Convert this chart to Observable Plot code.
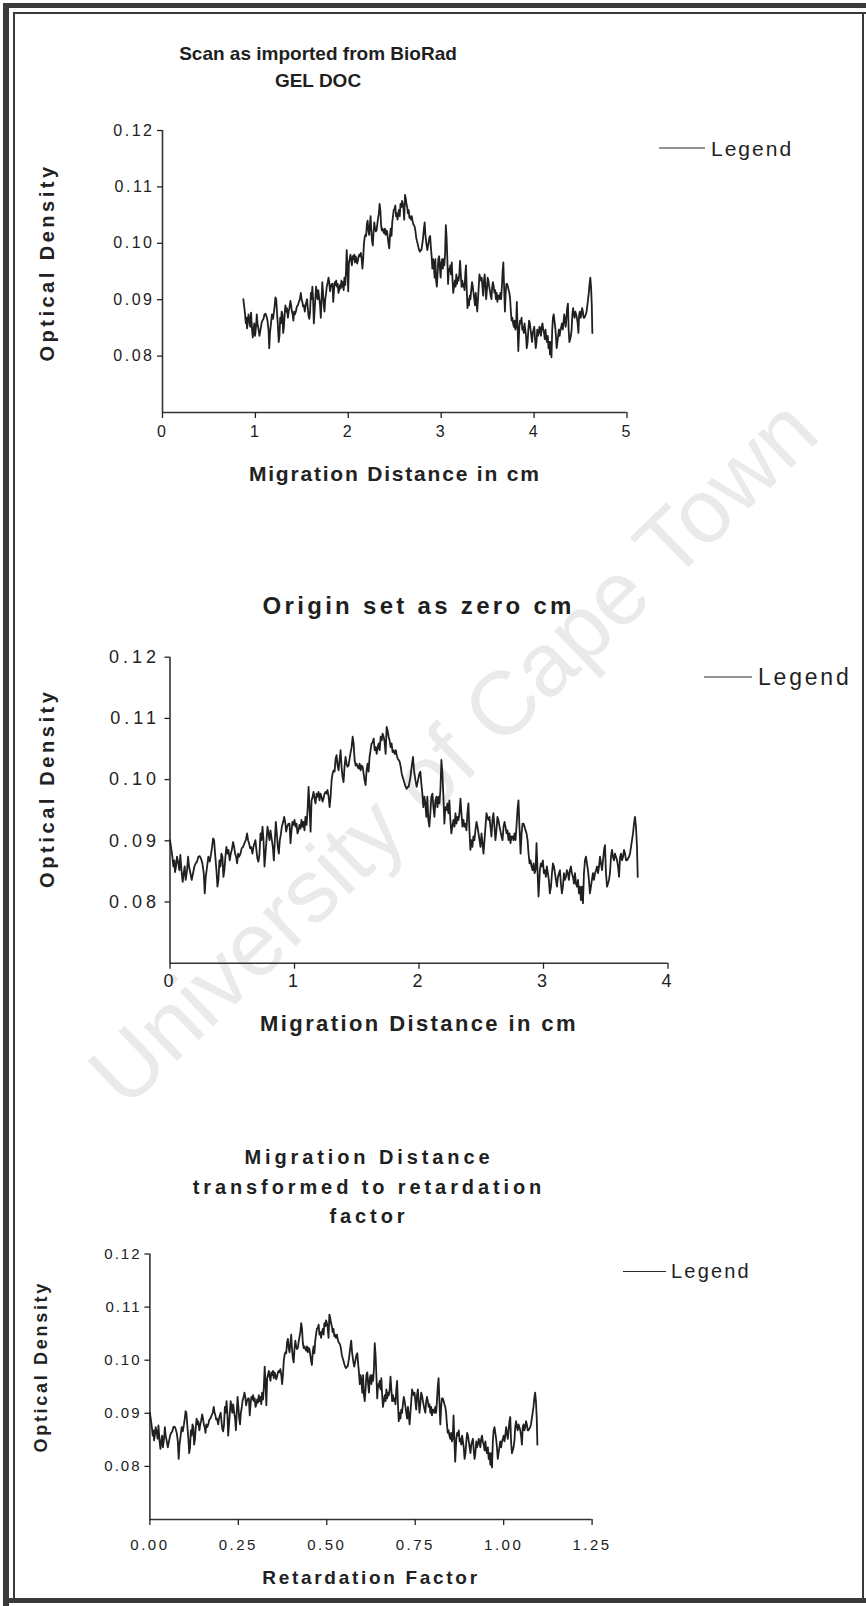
<!DOCTYPE html>
<html>
<head>
<meta charset="utf-8">
<script src="https://cdn.jsdelivr.net/npm/d3@7"></script>
<script src="https://cdn.jsdelivr.net/npm/@observablehq/plot@0.6"></script>
<style>
html, body { margin:0; padding:0; background:#fff; }
#page { position:relative; width:866px; height:1606px; overflow:hidden; background:#fff;
  font-family:"Liberation Sans", Arial, sans-serif; color:#1f1f1f; }
.frame { position:absolute; background:#3a3a3a; }
.watermark { position:absolute; left:453px; top:752px; transform:translate(-50%,-50%) rotate(-44deg);
  font-size:90px; color:#eaeaea; white-space:nowrap; font-family:"Liberation Sans", Arial, sans-serif; }
.title { position:absolute; transform:translate(-50%,-50%); font-weight:bold; white-space:nowrap; line-height:1; }
.legend { position:absolute; white-space:nowrap; line-height:1; transform:translateY(-50%); display:flex; align-items:center; }
.legend .swatch { display:inline-block; height:0; border-top:1.6px solid #2a2a2a; }
.plot { position:absolute; left:0; }
.plot svg { overflow:visible; }
.p1 g[aria-label="y-axis tick label"] { font-size:16px; letter-spacing:2.5px; }
.p1 g[aria-label="x-axis tick label"] { font-size:16px; letter-spacing:2px; }
.p1 g[aria-label="x-axis label"] { font-size:21px; font-weight:bold; letter-spacing:1.8px; }
.p1 .ylab text { letter-spacing:3.5px; }
.p2 g[aria-label="y-axis tick label"] { font-size:18px; letter-spacing:4px; }
.p2 g[aria-label="x-axis tick label"] { font-size:18px; letter-spacing:3px; }
.p2 g[aria-label="x-axis label"] { font-size:22px; font-weight:bold; letter-spacing:2.4px; }
.p2 .ylab text { letter-spacing:3.6px; }
.p3 g[aria-label="y-axis tick label"] { font-size:15px; letter-spacing:2px; }
.p3 g[aria-label="x-axis tick label"] { font-size:15px; letter-spacing:2.5px; }
.p3 g[aria-label="x-axis label"] { font-size:19px; font-weight:bold; letter-spacing:2.7px; }
.p3 .ylab text { letter-spacing:2.7px; }
</style>
</head>
<body>
<div id="page">
  <div class="watermark">University of Cape Town</div>
  <div class="frame" style="left:3px;top:3px;width:6px;height:1603px"></div>
  <div class="frame" style="left:3px;top:3px;width:863px;height:5px"></div>
  <div class="frame" style="left:13px;top:12px;width:2px;height:1589px"></div>
  <div class="frame" style="left:13px;top:12px;width:853px;height:2px"></div>
  <div class="frame" style="left:862px;top:12px;width:2px;height:1589px"></div>
  <div class="frame" style="left:3px;top:1598px;width:863px;height:5px"></div>
</div>
<script>
// ---- data ----
const originOffsetCm = 0.87;   // origin position in the imported scan (cm)
const solventFrontCm = 3.43;   // solvent front distance from origin (cm)
const yTicks = [0.08, 0.09, 0.10, 0.11, 0.12];
const scanTicks = [0, 1, 2, 3, 4, 5];
const originTicks = [0, 1, 2, 3, 4];
const rfTicks = [0, 0.25, 0.5, 0.75, 1.0, 1.25];
const panelTitles = [
  ["Scan as imported from BioRad", "GEL DOC"],
  ["Origin set as zero cm"],
  ["Migration Distance", "transformed to retardation", "factor"]
];
const xLabels = ["Migration Distance in cm", "Migration Distance in cm", "Retardation Factor"];
const yLabel = "Optical Density";
const legendText = "Legend";

// [distance from origin (cm), optical density]
const densityProfile = [
[0.000,0.0901],[0.008,0.0890],[0.019,0.0874],[0.027,0.0858],[0.035,0.0868],[0.040,0.0849],[0.048,0.0858],[0.056,0.0874],
[0.067,0.0863],[0.075,0.0852],[0.083,0.0877],[0.094,0.0847],[0.102,0.0833],[0.110,0.0847],[0.118,0.0858],[0.126,0.0836],
[0.137,0.0852],[0.145,0.0874],[0.153,0.0858],[0.164,0.0847],[0.174,0.0836],[0.185,0.0847],[0.196,0.0858],[0.206,0.0863],
[0.217,0.0866],[0.228,0.0874],[0.239,0.0875],[0.249,0.0871],[0.260,0.0863],[0.271,0.0847],[0.279,0.0814],[0.287,0.0841],
[0.298,0.0858],[0.308,0.0874],[0.319,0.0866],[0.330,0.0879],[0.338,0.0890],[0.346,0.0904],[0.354,0.0901],[0.362,0.0879],
[0.373,0.0852],[0.381,0.0825],[0.389,0.0836],[0.397,0.0868],[0.405,0.0858],[0.413,0.0879],[0.421,0.0874],[0.429,0.0841],
[0.437,0.0852],[0.445,0.0874],[0.453,0.0890],[0.461,0.0879],[0.469,0.0885],[0.480,0.0868],[0.488,0.0879],[0.496,0.0885],
[0.507,0.0898],[0.515,0.0890],[0.523,0.0879],[0.531,0.0874],[0.539,0.0863],[0.547,0.0879],[0.555,0.0874],[0.566,0.0879],
[0.576,0.0888],[0.587,0.0890],[0.598,0.0896],[0.609,0.0901],[0.619,0.0912],[0.627,0.0901],[0.635,0.0896],[0.643,0.0888],
[0.651,0.0890],[0.662,0.0879],[0.670,0.0890],[0.678,0.0896],[0.686,0.0901],[0.694,0.0885],[0.702,0.0871],[0.710,0.0866],
[0.718,0.0877],[0.727,0.0912],[0.735,0.0901],[0.743,0.0923],[0.751,0.0901],[0.759,0.0858],[0.767,0.0879],[0.775,0.0901],
[0.783,0.0923],[0.791,0.0912],[0.799,0.0901],[0.807,0.0917],[0.818,0.0901],[0.826,0.0890],[0.834,0.0868],[0.842,0.0901],
[0.850,0.0931],[0.858,0.0912],[0.866,0.0890],[0.874,0.0879],[0.882,0.0901],[0.890,0.0910],[0.898,0.0923],[0.909,0.0931],
[0.917,0.0939],[0.925,0.0931],[0.933,0.0915],[0.941,0.0923],[0.952,0.0928],
[0.960,0.0928],[0.968,0.0896],[0.976,0.0917],[0.984,0.0931],[0.992,0.0926],[1.000,0.0934],[1.008,0.0923],[1.016,0.0928],
[1.024,0.0912],[1.032,0.0917],[1.040,0.0926],[1.048,0.0920],[1.056,0.0934],[1.064,0.0923],[1.072,0.0931],[1.080,0.0917],
[1.088,0.0939],[1.097,0.0926],[1.105,0.0950],[1.113,0.0988],[1.121,0.0955],[1.129,0.0915],[1.137,0.0966],[1.145,0.0972],
[1.153,0.0980],[1.161,0.0969],[1.169,0.0961],[1.177,0.0977],[1.185,0.0972],[1.193,0.0980],[1.201,0.0966],[1.209,0.0977],
[1.217,0.0972],[1.225,0.0964],[1.233,0.0969],[1.241,0.0977],[1.249,0.0980],[1.257,0.0977],[1.265,0.0983],[1.274,0.0972],
[1.282,0.0955],[1.290,0.0972],[1.298,0.0999],[1.306,0.1010],[1.314,0.1015],[1.322,0.1013],[1.330,0.1034],[1.338,0.1040],
[1.346,0.1023],[1.354,0.1015],[1.362,0.1032],[1.370,0.1048],[1.378,0.1021],[1.386,0.1004],[1.394,0.0996],[1.402,0.1021],
[1.410,0.1037],[1.418,0.1026],[1.426,0.1021],[1.434,0.1023],[1.442,0.1034],[1.451,0.1045],[1.459,0.1053],[1.467,0.1070],
[1.475,0.1059],[1.483,0.1032],[1.491,0.1023],[1.499,0.1026],[1.507,0.1021],[1.515,0.1018],[1.523,0.1026],[1.531,0.1015],
[1.539,0.1023],[1.547,0.1021],[1.555,0.1010],[1.563,0.0999],[1.571,0.0991],[1.579,0.1015],[1.587,0.1026],[1.595,0.1013],
[1.603,0.1037],[1.611,0.1048],[1.619,0.1059],[1.628,0.1061],[1.636,0.1067],[1.644,0.1048],[1.652,0.1053],[1.660,0.1042],
[1.668,0.1053],[1.676,0.1059],[1.684,0.1048],[1.692,0.1070],[1.700,0.1064],[1.708,0.1075],[1.716,0.1070],[1.724,0.1061],
[1.732,0.1042],[1.740,0.1086],[1.748,0.1080],[1.756,0.1070],[1.764,0.1064],[1.772,0.1053],[1.780,0.1059],[1.788,0.1045],
[1.796,0.1048],[1.805,0.1042],[1.813,0.1048],[1.821,0.1040],[1.829,0.1034],[1.837,0.1032],[1.845,0.1029],[1.853,0.1021],
[1.861,0.1010],[1.869,0.1004],[1.877,0.0999],[1.885,0.0993],[1.893,0.0988],[1.901,0.0985],[1.909,0.0988],
[1.917,0.0988],[1.931,0.1004],[1.944,0.1026],[1.952,0.1037],[1.960,0.1015],[1.971,0.0999],[1.981,0.0988],[1.992,0.0999],
[2.003,0.1010],[2.011,0.1013],[2.019,0.0993],[2.027,0.0977],[2.035,0.0955],[2.043,0.0972],[2.051,0.0961],[2.059,0.0939],
[2.067,0.0972],[2.075,0.0934],[2.083,0.0923],[2.091,0.0945],[2.099,0.0972],[2.108,0.0977],[2.116,0.0955],[2.124,0.0939],
[2.132,0.0966],[2.140,0.0972],[2.148,0.0955],[2.156,0.0972],[2.164,0.0961],[2.172,0.0983],[2.180,0.1032],[2.188,0.1010],
[2.196,0.0972],[2.204,0.0928],[2.212,0.0955],[2.220,0.0950],[2.228,0.0961],[2.236,0.0945],[2.244,0.0966],[2.252,0.0934],
[2.260,0.0912],[2.268,0.0923],[2.277,0.0934],[2.285,0.0923],[2.293,0.0945],[2.301,0.0928],[2.309,0.0939],[2.317,0.0934],
[2.325,0.0945],[2.333,0.0969],[2.341,0.0945],[2.349,0.0923],[2.357,0.0934],[2.365,0.0923],[2.373,0.0928],[2.381,0.0917],
[2.389,0.0945],[2.397,0.0961],[2.405,0.0917],[2.413,0.0885],[2.421,0.0901],[2.429,0.0890],[2.437,0.0907],[2.445,0.0901],
[2.453,0.0917],[2.462,0.0931],[2.470,0.0923],[2.478,0.0912],[2.486,0.0901],[2.494,0.0890],[2.502,0.0912],[2.510,0.0896],
[2.518,0.0879],[2.526,0.0901],[2.534,0.0923],[2.542,0.0945],[2.550,0.0939],[2.558,0.0934],[2.566,0.0939],[2.574,0.0923],
[2.582,0.0907],[2.590,0.0934],[2.598,0.0945],[2.606,0.0923],[2.614,0.0901],[2.622,0.0917],[2.630,0.0939],[2.638,0.0934],
[2.647,0.0923],[2.655,0.0915],[2.663,0.0907],[2.671,0.0901],[2.679,0.0923],[2.687,0.0931],[2.695,0.0923],[2.703,0.0912],
[2.711,0.0917],[2.719,0.0901],[2.727,0.0912],[2.735,0.0896],[2.743,0.0907],[2.751,0.0907],[2.759,0.0901],[2.767,0.0912],
[2.775,0.0901],[2.783,0.0923],[2.791,0.0950],[2.799,0.0966],[2.807,0.0923],[2.816,0.0879],[2.824,0.0912],[2.832,0.0928],
[2.840,0.0928],[2.848,0.0923],[2.856,0.0917],[2.864,0.0912],[2.872,0.0901],[2.880,0.0879],[2.888,0.0863],[2.896,0.0868],
[2.904,0.0858],[2.912,0.0852],[2.920,0.0863],[2.928,0.0847],[2.936,0.0852],[2.944,0.0896],[2.952,0.0852],[2.960,0.0809],
[2.971,0.0852],[2.979,0.0863],[2.987,0.0858],[2.995,0.0868],[3.003,0.0847],[3.011,0.0852],[3.019,0.0841],[3.027,0.0858],
[3.035,0.0847],[3.043,0.0836],[3.051,0.0814],[3.060,0.0825],[3.068,0.0847],[3.076,0.0863],[3.084,0.0858],[3.092,0.0847],
[3.100,0.0836],[3.108,0.0825],[3.116,0.0841],[3.124,0.0847],[3.132,0.0852],[3.140,0.0830],[3.148,0.0814],[3.156,0.0825],
[3.164,0.0847],[3.172,0.0836],[3.180,0.0841],[3.188,0.0852],[3.196,0.0847],[3.204,0.0836],[3.212,0.0852],[3.220,0.0858],
[3.228,0.0847],[3.237,0.0841],[3.245,0.0830],[3.253,0.0847],[3.261,0.0830],[3.269,0.0825],[3.277,0.0836],[3.285,0.0814],
[3.293,0.0825],[3.301,0.0803],[3.309,0.0825],[3.317,0.0798],[3.325,0.0847],[3.333,0.0868],[3.341,0.0874],[3.349,0.0863],
[3.357,0.0852],[3.365,0.0836],[3.373,0.0814],[3.381,0.0825],[3.389,0.0836],[3.397,0.0847],[3.405,0.0836],[3.414,0.0847],
[3.422,0.0852],[3.430,0.0858],[3.438,0.0847],[3.446,0.0858],[3.454,0.0874],[3.462,0.0863],[3.470,0.0852],[3.478,0.0868],
[3.486,0.0885],[3.494,0.0893],[3.502,0.0847],[3.510,0.0825],[3.518,0.0830],[3.526,0.0836],[3.534,0.0847],[3.542,0.0874],
[3.550,0.0885],[3.558,0.0874],[3.566,0.0868],[3.574,0.0879],[3.582,0.0874],[3.591,0.0868],[3.599,0.0858],[3.607,0.0841],
[3.615,0.0874],[3.623,0.0879],[3.631,0.0868],[3.639,0.0874],[3.647,0.0885],[3.655,0.0879],[3.663,0.0868],[3.671,0.0868],
[3.679,0.0871],[3.687,0.0874],[3.695,0.0879],[3.703,0.0890],[3.711,0.0901],[3.719,0.0912],[3.727,0.0928],[3.735,0.0939],
[3.743,0.0923],[3.751,0.0890],[3.757,0.0841]
];

// ---- drawing ----
const rows = densityProfile.map(([d, od]) => ({d, od}));
const page = document.getElementById("page");
const ink = "#202020";

const panels = [
  { cls: "p1", top: 100, ml: 162, mr: 239.5, mt: 30, ph: 282, mb: 90,
    xDomain: [0, 5], xTicks: scanTicks, xFormat: d3.format("d"),
    xValue: r => r.d + originOffsetCm,
    ytp: 3, xtp: 7, ylo: 123, ylSize: 20, yShift: -9, xlo: 68,
    title: { lines: panelTitles[0], cx: 318, y0: 53, lh: 27, size: 19, ls: 0 },
    legend: { x: 659, y: 148, w: 46, gap: 6, size: 21, ls: 2 } },
  { cls: "p2", top: 620, ml: 169.5, mr: 198.5, mt: 36.7, ph: 306, mb: 85,
    xDomain: [0, 4], xTicks: originTicks, xFormat: d3.format("d"),
    xValue: r => r.d,
    ytp: 5, xtp: 5.5, ylo: 130.5, ylSize: 20, yShift: -22, xlo: 68,
    title: { lines: panelTitles[1], cx: 417, y0: 606, lh: 30, size: 24, ls: 3.3 },
    legend: { x: 704, y: 677, w: 48, gap: 6, size: 23, ls: 2.8 } },
  { cls: "p3", top: 1230, ml: 149.4, mr: 274.4, mt: 23.5, ph: 265.5, mb: 75,
    xDomain: [0, 1.25], xTicks: rfTicks, xFormat: d3.format(".2f"),
    xValue: r => r.d / solventFrontCm,
    ytp: 3.4, xtp: 14, ylo: 115.6, ylSize: 18, yShift: -20, xlo: 64,
    title: { lines: panelTitles[2], cx: 367, y0: 1157, lh: 29.7, size: 20, ls: 3.9 },
    legend: { x: 623, y: 1271, w: 43, gap: 5, size: 20, ls: 2.2 } }
];

panels.forEach((p, i) => {
  const svg = Plot.plot({
    width: 866,
    height: p.mt + p.ph + p.mb,
    marginLeft: p.ml, marginRight: p.mr, marginTop: p.mt, marginBottom: p.mb,
    style: { fontFamily: "Liberation Sans, Arial, sans-serif", fontSize: "15px", color: "#222", background: "transparent", overflow: "visible" },
    x: { domain: p.xDomain },
    y: { domain: [0.07, 0.12] },
    marks: [
      Plot.ruleX([p.xDomain[0]], { stroke: "#333", strokeWidth: 1.6 }),
      Plot.ruleY([0.07], { stroke: "#333", strokeWidth: 1.6 }),
      Plot.axisY(yTicks, { tickFormat: d3.format(".2f"), tickSize: 5, tickPadding: p.ytp, strokeWidth: 1.3, label: null }),
      Plot.text([yLabel], { text: d => d, frameAnchor: "left", rotate: -90, lineAnchor: "top", textAnchor: "middle",
        dx: -p.ylo, dy: p.yShift, fill: "#222", fontSize: p.ylSize, fontWeight: "bold" }),
      Plot.axisX(p.xTicks, { tickFormat: p.xFormat, tickSize: 6, tickPadding: p.xtp, strokeWidth: 1.3,
        label: xLabels[i], labelAnchor: "center", labelOffset: p.xlo, labelArrow: "none" }),
      Plot.line(rows, { x: p.xValue, y: "od", stroke: ink, strokeWidth: 1.8 })
    ]
  });
  // tag the y-label text group for letter spacing
  svg.querySelectorAll("g[aria-label='text']").forEach(g => g.classList.add("ylab"));
  const holder = document.createElement("div");
  holder.className = "plot " + p.cls;
  holder.style.top = p.top + "px";
  holder.appendChild(svg);
  page.appendChild(holder);

  p.title.lines.forEach((line, j) => {
    const t = document.createElement("div");
    t.className = "title";
    t.textContent = line;
    t.style.left = p.title.cx + "px";
    t.style.top = (p.title.y0 + j * p.title.lh) + "px";
    t.style.fontSize = p.title.size + "px";
    t.style.letterSpacing = p.title.ls + "px";
    t.style.paddingLeft = p.title.ls + "px";
    page.appendChild(t);
  });

  const lg = document.createElement("div");
  lg.className = "legend";
  lg.style.left = p.legend.x + "px";
  lg.style.top = p.legend.y + "px";
  const sw = document.createElement("span");
  sw.className = "swatch";
  sw.style.width = p.legend.w + "px";
  sw.style.marginRight = p.legend.gap + "px";
  const tx = document.createElement("span");
  tx.textContent = legendText;
  tx.style.fontSize = p.legend.size + "px";
  tx.style.letterSpacing = p.legend.ls + "px";
  lg.appendChild(sw);
  lg.appendChild(tx);
  page.appendChild(lg);
});
</script>
</body>
</html>
